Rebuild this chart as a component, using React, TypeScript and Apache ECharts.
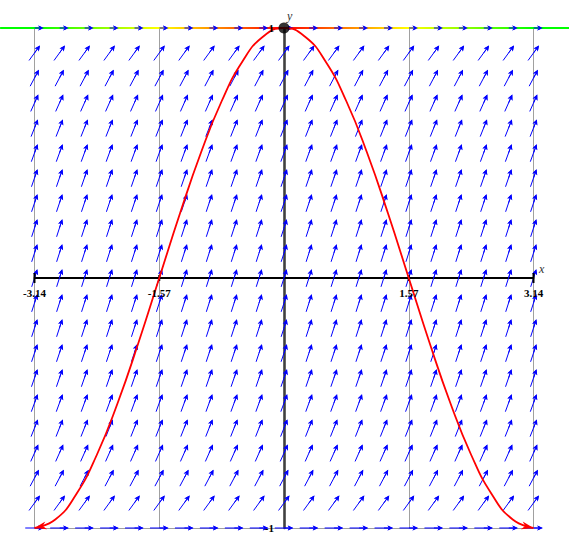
import React, { useEffect, useRef } from "react";
import * as echarts from "echarts";

// Slope-field grid (columns, rows) and slope of arrows in each row
const fieldX = [-3.1416, -2.8274, -2.5133, -2.1991, -1.885, -1.5708, -1.2566, -0.9425, -0.6283, -0.3142, 0, 0.3142, 0.6283, 0.9425, 1.2566, 1.5708, 1.885, 2.1991, 2.5133, 2.8274, 3.1416];
const fieldY = [-1, -0.9, -0.8, -0.7, -0.6, -0.5, -0.4, -0.3, -0.2, -0.1, 0, 0.1, 0.2, 0.3, 0.4, 0.5, 0.6, 0.7, 0.8, 0.9, 1];
const fieldSlope = [0, 0.436, 0.6, 0.714, 0.8, 0.866, 0.917, 0.954, 0.98, 0.995, 1, 0.995, 0.98, 0.954, 0.917, 0.866, 0.8, 0.714, 0.6, 0.436, 0];

// Red solution curve
const curveX = [-3.1416, -2.8798, -2.618, -2.3562, -2.0944, -1.8326, -1.5708, -1.309, -1.0472, -0.7854, -0.5236, -0.2618, 0, 0.2618, 0.5236, 0.7854, 1.0472, 1.309, 1.5708, 1.8326, 2.0944, 2.3562, 2.618, 2.8798, 3.1416];
const curveY = [-1, -0.966, -0.866, -0.707, -0.5, -0.259, 0, 0.259, 0.5, 0.707, 0.866, 0.966, 1, 0.966, 0.866, 0.707, 0.5, 0.259, 0, -0.259, -0.5, -0.707, -0.866, -0.966, -1];
// Arrow heads at the curve ends: [tipX, tipY, fromX, fromY]
const curveEnds = [
  [-3.1416, -1, -2.99, -0.989],
  [3.1416, -1, 2.99, -0.989],
];

// Constant solution y = 1 (drawn across the whole width): [fromX, toX, y]
const topLine = [[-3.575, 3.59, 1]];

// Point (0, 1)
const dotPoint = [[0, 1]];

// Axis ticks and labels
const xTickValues = [-3.1416, -1.5708, 1.5708, 3.1416];
const xTickLabels = ["-3.14", "-1.57", "1.57", "3.14"];
const yTickValues = [1, -1];
const yTickLabels = ["1", "-1"];

const SERIF = '"Liberation Serif", "Times New Roman", serif';

function arrowHead(tip: number[], ux: number, uy: number, hl: number, hw: number, notch: number) {
  const bx = tip[0] - ux * hl;
  const by = tip[1] - uy * hl;
  const px = -uy;
  const py = ux;
  return [
    [tip[0], tip[1]],
    [bx + px * hw, by + py * hw],
    [tip[0] - ux * notch, tip[1] - uy * notch],
    [bx - px * hw, by - py * hw],
  ];
}

function fieldRenderer(shaftLen: number) {
  return (params: any, api: any) => {
    const c = api.coord([api.value(0), api.value(1)]);
    const s = api.value(2);
    const sz = api.size([1, 1]);
    const dx = sz[0];
    const dy = -sz[1] * s;
    const len = Math.sqrt(dx * dx + dy * dy);
    const ux = dx / len;
    const uy = dy / len;
    const L = 18.5;
    const tip = [c[0] + (ux * L) / 2, c[1] + (uy * L) / 2];
    const tail = [tip[0] - ux * shaftLen, tip[1] - uy * shaftLen];
    const notch = 4;
    return {
      type: "group",
      children: [
        {
          type: "line",
          shape: { x1: tail[0], y1: tail[1], x2: tip[0] - ux * notch, y2: tip[1] - uy * notch },
          style: { stroke: "#0000ff", lineWidth: 1 },
        },
        {
          type: "polygon",
          shape: { points: arrowHead(tip, ux, uy, 5.5, 2.6, notch) },
          style: { fill: "#0000ff" },
        },
      ],
    };
  };
}

export default function App() {
  const ref = useRef<HTMLDivElement>(null);

  useEffect(() => {
    if (!ref.current) return;
    const chart = echarts.init(ref.current, null, { renderer: "svg" });

    const arrows: number[][] = [];
    fieldY.forEach((y, r) => {
      fieldX.forEach((x) => arrows.push([x, y, fieldSlope[r]]));
    });

    const labelItems: any[] = [];
    xTickValues.forEach((v, i) => labelItems.push([v, 0, 0, i]));
    yTickValues.forEach((v, i) => labelItems.push([0, v, 1, i]));

    const option: any = {
      animation: false,
      backgroundColor: "#ffffff",
      grid: { left: 34.5, right: 35.5, top: 28, bottom: 17, containLabel: false },
      xAxis: {
        type: "value",
        min: -Math.PI,
        max: Math.PI,
        interval: Math.PI / 2,
        axisLine: { onZero: true, lineStyle: { color: "#000000", width: 1.8 } },
        axisTick: { show: false },
        axisLabel: { show: false },
        splitLine: { show: true, lineStyle: { color: "#a0a0a0", width: 1 } },
      },
      yAxis: {
        type: "value",
        min: -1,
        max: 1,
        interval: 1,
        axisLine: { onZero: true, lineStyle: { color: "#404040", width: 2.6 } },
        axisTick: { show: false },
        axisLabel: { show: false },
        splitLine: { show: true, lineStyle: { color: "#a0a0a0", width: 1 } },
      },
      graphic: [
        { type: "text", x: 539, y: 263, style: { text: "x", font: `italic 12px ${SERIF}`, fill: "#333333" }, z: 10 },
        { type: "text", x: 287, y: 10, style: { text: "y", font: `italic 12px ${SERIF}`, fill: "#333333" }, z: 10 },
      ],
      series: [
        {
          type: "custom",
          name: "field",
          data: arrows,
          clip: false,
          z: 2,
          silent: true,
          renderItem: fieldRenderer(18.5),
        },
        {
          type: "custom",
          name: "top",
          data: topLine,
          clip: false,
          z: 3,
          silent: true,
          renderItem: (params: any, api: any) => {
            const a = api.coord([api.value(0), api.value(2)]);
            const b = api.coord([api.value(1), api.value(2)]);
            const w = b[0] - a[0];
            const at = (xv: number) => (api.coord([xv, 1])[0] - a[0]) / w;
            return {
              type: "rect",
              shape: { x: a[0], y: a[1] - 1, width: w, height: 2 },
              style: {
                fill: new echarts.graphic.LinearGradient(0, 0, 1, 0, [
                  { offset: 0, color: "#00ff00" },
                  { offset: at(-3.1416), color: "#00ff00" },
                  { offset: at(-2.3562), color: "#80ff00" },
                  { offset: at(-1.5708), color: "#ffff00" },
                  { offset: at(-0.7854), color: "#ff8000" },
                  { offset: at(0), color: "#ff0000" },
                  { offset: at(0.7854), color: "#ff8000" },
                  { offset: at(1.5708), color: "#ffff00" },
                  { offset: at(2.3562), color: "#80ff00" },
                  { offset: at(3.1416), color: "#00ff00" },
                  { offset: 1, color: "#00ff00" },
                ]),
              },
            };
          },
        },
        {
          type: "custom",
          name: "fieldHeads",
          data: arrows,
          clip: false,
          z: 4,
          silent: true,
          renderItem: fieldRenderer(9),
        },
        {
          type: "custom",
          name: "ticks",
          data: xTickValues.map((v) => [v, 0]),
          clip: false,
          z: 4,
          silent: true,
          renderItem: (params: any, api: any) => {
            const c = api.coord([api.value(0), api.value(1)]);
            const big = Math.abs(Math.abs(api.value(0)) - Math.PI) < 0.01;
            const h = big ? 5 : 3;
            return {
              type: "line",
              shape: { x1: c[0], y1: c[1] - h, x2: c[0], y2: c[1] + h },
              style: { stroke: "#000000", lineWidth: 2 },
            };
          },
        },
        {
          type: "custom",
          name: "labels",
          data: labelItems,
          clip: false,
          z: 8,
          silent: true,
          renderItem: (params: any, api: any) => {
            const c = api.coord([api.value(0), api.value(1)]);
            const isY = api.value(2) === 1;
            const idx = api.value(3);
            const text = isY ? yTickLabels[idx] : xTickLabels[idx];
            return {
              type: "text",
              x: isY ? c[0] - 10 : c[0],
              y: isY ? c[1] : c[1] + 15,
              style: {
                text,
                font: `bold 11px ${SERIF}`,
                fill: "#000000",
                align: isY ? "right" : "center",
                verticalAlign: "middle",
              },
            };
          },
        },
        {
          type: "line",
          name: "curve",
          data: curveX.map((x, i) => [x, curveY[i]]),
          smooth: true,
          symbol: "none",
          showSymbol: false,
          clip: false,
          lineStyle: { color: "#ff0000", width: 1.8 },
          z: 5,
          silent: true,
        },
        {
          type: "custom",
          name: "curveHeads",
          data: curveEnds,
          clip: false,
          z: 6,
          silent: true,
          renderItem: (params: any, api: any) => {
            const tip = api.coord([api.value(0), api.value(1)]);
            const from = api.coord([api.value(2), api.value(3)]);
            const dx = tip[0] - from[0];
            const dy = tip[1] - from[1];
            const len = Math.sqrt(dx * dx + dy * dy);
            return {
              type: "polygon",
              shape: { points: arrowHead(tip, dx / len, dy / len, 12, 4, 8.5) },
              style: { fill: "#ff0000" },
            };
          },
        },
        {
          type: "scatter",
          name: "dot",
          data: dotPoint,
          symbol: "circle",
          symbolSize: 11,
          itemStyle: { color: "#000000" },
          z: 7,
          silent: true,
        },
      ],
    };

    chart.setOption(option);
    return () => chart.dispose();
  }, []);

  return (
    <div
      ref={ref}
      style={{ position: "fixed", left: 0, top: 0, width: 569, height: 545, background: "#ffffff" }}
    />
  );
}
